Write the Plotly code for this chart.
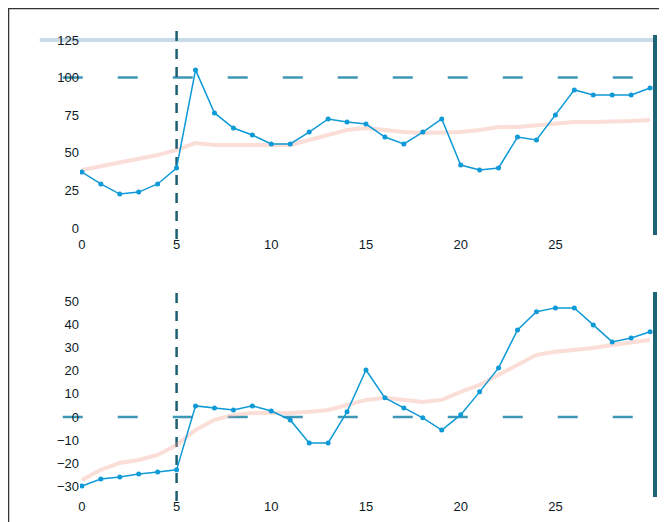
import plotly.graph_objects as go
from plotly.subplots import make_subplots

# ---- data ----
years = list(range(0, 31))
x_ticks = [0, 5, 10, 15, 20, 25]
x_tick_labels = ["0", "5", "10", "15", "20", "25"]

upper_ticks = [0, 25, 50, 75, 100, 125]
lower_ticks = [-30, -20, -10, 0, 10, 20, 30, 40, 50]

upper_series = [37.2, 29.3, 22.6, 23.9, 29.3, 39.9, 105.1, 76.5, 66.5, 61.8,
                55.9, 55.9, 63.8, 72.5, 70.5, 69.1, 60.5, 55.9, 63.8, 72.5,
                41.9, 38.6, 39.9, 60.5, 58.5, 75.1, 91.8, 88.4, 88.4, 88.4, 93.1]
upper_trend = [38.6, 41.2, 43.9, 46.5, 48.5, 51.9, 56.5, 55.2, 55.2, 55.2,
               55.2, 55.2, 58.5, 61.8, 65.2, 66.5, 65.2, 63.8, 63.2, 63.2,
               63.8, 65.2, 67.2, 67.2, 68.5, 69.8, 70.5, 70.5, 70.5, 71.1, 71.8]

lower_series = [-30.0, -27.0, -26.1, -24.8, -23.9, -23.0, 4.8, 3.9, 3.0, 4.8,
                2.6, -1.3, -11.3, -11.3, 2.2, 20.4, 8.3, 3.9, -0.4, -5.7,
                0.9, 10.9, 21.3, 37.8, 45.7, 47.4, 47.4, 40.0, 32.6, 34.3, 37.0]
lower_trend = [-27.4, -23.0, -20.0, -18.7, -16.5, -12.2, -5.7, -1.3, 0.9, 1.7,
               1.7, 1.7, 2.2, 3.0, 5.2, 7.4, 8.3, 7.4, 6.5, 7.4,
               10.9, 13.9, 18.3, 22.6, 27.0, 28.3, 29.1, 30.0, 31.3, 32.6, 33.5]

upper_ref = 100
upper_top_ref = 125
lower_ref = 0
event_x = 5

# ---- figure ----
BLUE = "#0e9ad6"
SALMON = "rgba(240,160,140,0.35)"
TEAL_DARK = "#1c5f72"
TEAL = "#3f97b6"

fig = make_subplots(rows=2, cols=1, shared_xaxes=False, vertical_spacing=0.12)

fig.add_trace(go.Scatter(x=years, y=upper_trend, mode="lines",
                         line=dict(color=SALMON, width=4), showlegend=False), row=1, col=1)
fig.add_trace(go.Scatter(x=years, y=upper_series, mode="lines+markers",
                         line=dict(color=BLUE, width=1.5),
                         marker=dict(color=BLUE, size=5), showlegend=False), row=1, col=1)
fig.add_trace(go.Scatter(x=years, y=lower_trend, mode="lines",
                         line=dict(color=SALMON, width=4), showlegend=False), row=2, col=1)
fig.add_trace(go.Scatter(x=years, y=lower_series, mode="lines+markers",
                         line=dict(color=BLUE, width=1.5),
                         marker=dict(color=BLUE, size=5), showlegend=False), row=2, col=1)

xr = [-0.1, 30.26]
axis_font = dict(family="Liberation Sans, Arial, sans-serif", size=13, color="#0d1b26")
for r in (1, 2):
    fig.update_xaxes(range=xr, tickvals=x_ticks, ticktext=x_tick_labels,
                     showgrid=False, zeroline=False, showline=False,
                     ticks="", tickfont=axis_font, row=r, col=1)

fig.update_yaxes(range=[-4.65, 128.3], tickvals=upper_ticks,
                 showgrid=False, zeroline=False, showline=False, ticks="",
                 tickfont=axis_font, domain=[0.567, 1.0], row=1, col=1)
fig.update_yaxes(range=[-34.8, 54.3], tickvals=lower_ticks,
                 showgrid=False, zeroline=False, showline=False, ticks="",
                 tickfont=axis_font, domain=[0.0, 0.4437], row=2, col=1)

shapes = []
# light reference line at top of upper panel
shapes.append(dict(type="line", xref="paper", yref="y", x0=-0.07, x1=1.0,
                   y0=upper_top_ref, y1=upper_top_ref,
                   line=dict(color="#c8dce8", width=4), layer="below"))
# dashed reference lines
shapes.append(dict(type="line", xref="paper", yref="y", x0=-0.03, x1=1.0,
                   y0=upper_ref, y1=upper_ref,
                   line=dict(color=TEAL, width=2.5, dash="20px,35px"), layer="below"))
shapes.append(dict(type="line", xref="paper", yref="y2", x0=-0.03, x1=1.0,
                   y0=lower_ref, y1=lower_ref,
                   line=dict(color=TEAL, width=2.5, dash="20px,35px"), layer="below"))
# vertical event lines and right edge lines
for xa, ya in (("x", "y domain"), ("x2", "y2 domain")):
    shapes.append(dict(type="line", xref=xa, yref=ya, x0=event_x, x1=event_x,
                       y0=-0.02, y1=1.03,
                       line=dict(color=TEAL_DARK, width=2.5, dash="10px,8px"), layer="below"))
    shapes.append(dict(type="line", xref="paper", yref=ya, x0=1.0, x1=1.0,
                       y0=0, y1=1.0,
                       line=dict(color="#1e6476", width=4)))
# outer frame of the figure
shapes.append(dict(type="rect", xref="paper", yref="paper",
                   x0=-0.1252, x1=1.0348, y0=-0.0714, y1=1.0584,
                   line=dict(color="#333333", width=2.5), fillcolor="rgba(0,0,0,0)"))

fig.update_layout(
    width=667, height=522,
    margin=dict(l=72, r=20, t=27, b=33),
    paper_bgcolor="white", plot_bgcolor="white",
    shapes=shapes,
    showlegend=False,
)

fig.write_html("out.html")
